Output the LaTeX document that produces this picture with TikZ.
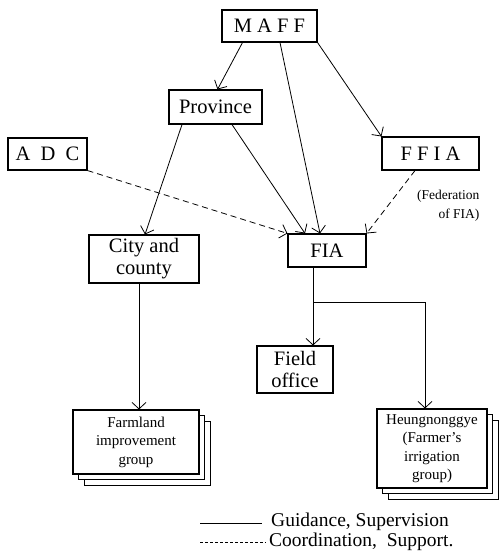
\documentclass[tikz,border=0pt]{standalone}
\usepackage{fontspec}
\setmainfont{Liberation Serif}
\usetikzlibrary{arrows.meta, shadows}

\tikzset{
  org/.style={draw, line width=1.1pt, inner sep=2pt, align=center,
    font=\fontsize{20.5}{22}\selectfont},
  grp/.style={org, fill=white, font=\fontsize{15}{18.5}\selectfont,
    double copy shadow={shadow xshift=5.5pt, shadow yshift=-5.5pt, draw, fill=white, line width=1pt}},
  guide/.style={line width=0.8pt, -{Straight Barb[length=6.5pt, width=14pt]}},
  coord/.style={guide, dash pattern=on 6pt off 4pt}
}

\begin{document}
\begin{tikzpicture}[x=1pt, y=-1pt]
\useasboundingbox (0,0) rectangle (498,551);
% organisations
\node[org, minimum width=95pt, minimum height=32pt] (maff) at (269.5,26) {M A F F};
\node[org, minimum width=93pt, minimum height=34pt] (prov) at (215.5,107) {Province};
\node[org, minimum width=79pt, minimum height=32pt] (adc) at (47.5,154) {A\enspace D\enspace C};
\node[org, minimum width=97pt, minimum height=33pt] (ffia) at (430.5,153.5) {F F I A};
\node[org, minimum width=78pt, minimum height=33pt] (fia) at (327,250.5) {FIA};
\node[org, minimum width=110pt, minimum height=48pt] (city) at (144,259) {City and\\county};
\node[org, minimum width=76pt, minimum height=47pt] (field) at (295,369.5) {Field\\office};
\node[grp, minimum width=126pt, minimum height=64pt] (farm) at (136,442) {Farmland\\improvement\\group};
\node[grp, minimum width=110pt, minimum height=79pt] (heung) at (432,448.5) {Heungnonggye\\(Farmer's\\irrigation\\group)};
\node[anchor=east, align=right, font=\fontsize{13.5}{19}\selectfont] (fedlbl) at (483,206) {(Federation\\of FIA)};

% guidance
\draw[guide] ([xshift=-27pt]maff.south) -- ([xshift=2pt]prov.north);
\draw[guide] ([xshift=10.5pt]maff.south) -- ([xshift=-7pt]fia.north);
\draw[guide] (maff.south east) -- (ffia.north west);
\draw[guide] ([xshift=-33.5pt]prov.south) -- ([xshift=1pt]city.north);
\draw[guide] ([xshift=16.5pt]prov.south) -- ([xshift=-22pt]fia.north);
\draw[guide] ([xshift=-5pt]city.south) -- ([xshift=3pt]farm.north);
\draw[guide] ([xshift=-14pt]fia.south) -- ([xshift=18pt]field.north);
\coordinate (br) at (313,302);
\draw[guide] (br) -| ([xshift=-7pt]heung.north);
% coordination
\draw[coord] (adc.south east) -- (fia.north west);
\draw[coord] ([xshift=-15.5pt]ffia.south) -- (fia.north east);

% legend
\coordinate (solida) at (200,523);
\coordinate (solidb) at (262,523);
\coordinate (dasha) at (200,542);
\coordinate (dashb) at (266,542);
\draw[line width=0.8pt] (solida) -- (solidb);
\draw[line width=0.8pt, dash pattern=on 3pt off 2pt] (dasha) -- (dashb);
\node[anchor=base west, font=\fontsize{19.5}{22}\selectfont, inner sep=0pt] (guidelbl) at (271,526) {Guidance, Supervision};
\node[anchor=base west, font=\fontsize{19.5}{22}\selectfont, inner sep=0pt] (coordlbl) at (269,546) {Coordination,\ \ Support.};
\end{tikzpicture}
\end{document}
